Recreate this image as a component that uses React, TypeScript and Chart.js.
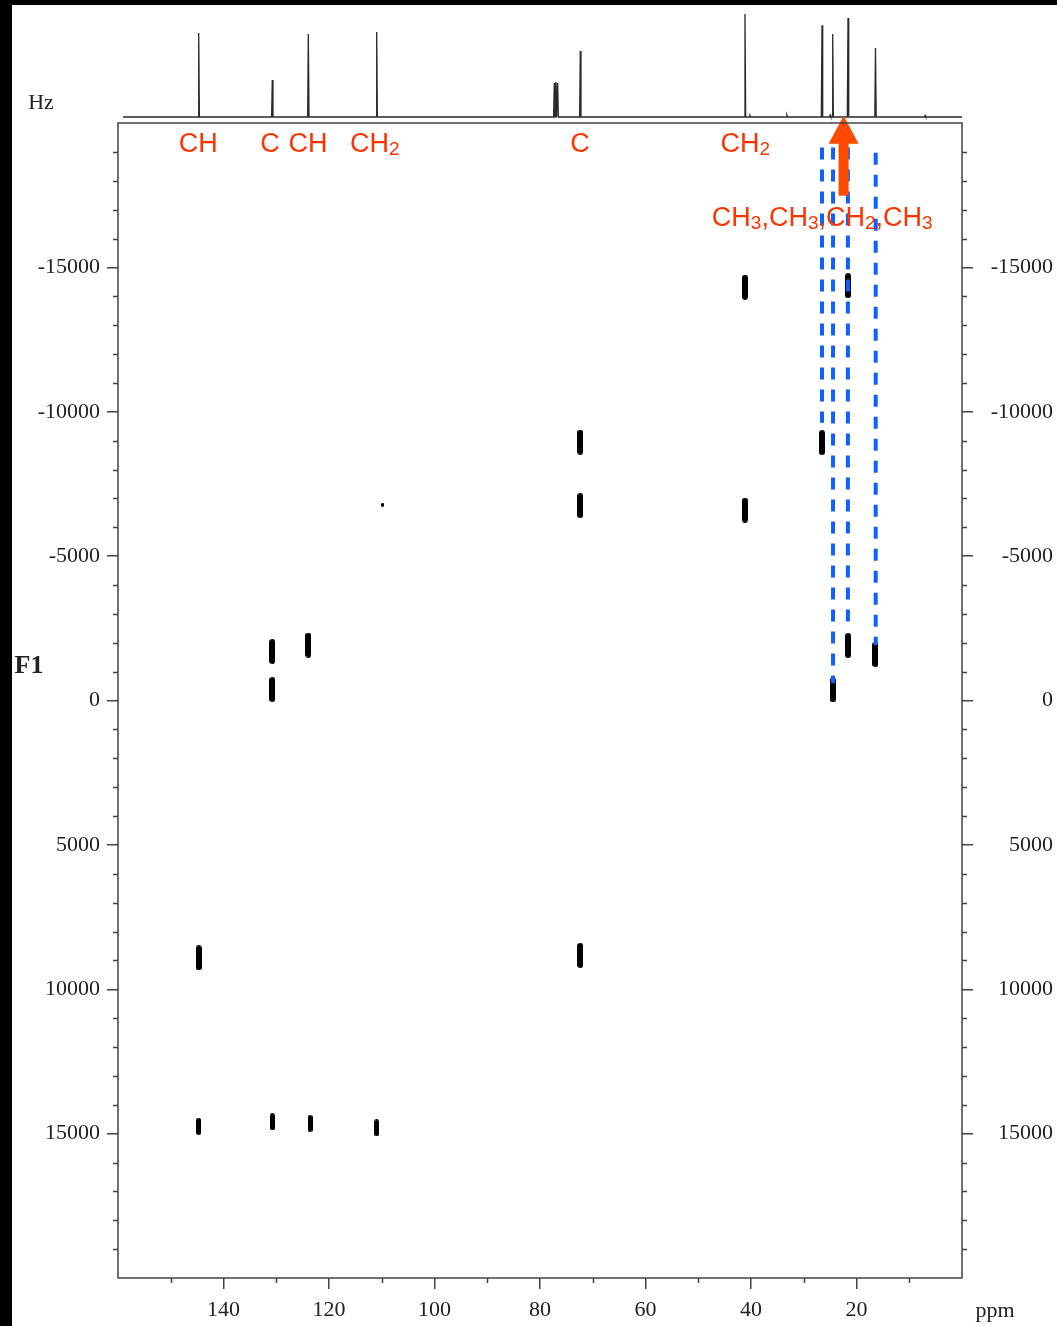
import React, { useEffect, useRef } from 'react';
import { Chart, registerables } from 'chart.js';

Chart.register(...registerables);

// ---- 1D 13C projection along F2 (ppm) ----
const specPeakPpm = [144.7, 130.75, 123.92, 110.96, 77.29, 76.97, 76.65, 72.36, 41.14, 40.2, 33.2, 26.54, 25.0, 24.51, 21.61, 16.4, 7.0];
const specPeakHeight = [81.5, 36, 80.5, 82.5, 33, 34, 33, 64, 100, 1.5, 2, 89, 2, 80.5, 96, 67, 1.5];
const specStartPpm = 159.05;
const specEndPpm = 0;

// ---- 2D cross peaks: F2 (ppm) vs F1 (Hz) ----
const strongPpm = [41.14, 21.61, 72.36, 26.54, 72.36, 41.14, 130.75, 123.92, 130.75, 21.61, 16.4, 24.51, 144.7, 72.36];
const strongHz = [-14315, -14367, -8949, -8932, -6751, -6595, -1696, -1921, -381, -1904, -1593, -364, 8915, 8828];
const weakPpm = [144.7, 130.75, 123.6, 110.96];
const weakHz = [14748, 14592, 14644, 14800];
const tracePpm = [109.8];
const traceHz = [-6786];

// ---- Axis ticks ----
const xMajorTicks = [140, 120, 100, 80, 60, 40, 20];
const xMinorTicks = [150, 130, 110, 90, 70, 50, 30, 10];
const yMajorTicks = [-15000, -10000, -5000, 0, 5000, 10000, 15000];
const yMinorTicks = [-19000, -18000, -17000, -16000, -14000, -13000, -12000, -11000, -9000, -8000, -7000, -6000, -4000, -3000, -2000, -1000, 1000, 2000, 3000, 4000, 6000, 7000, 8000, 9000, 11000, 12000, 13000, 14000, 16000, 17000, 18000, 19000];

// ---- Annotations ----
const guidePpm = [26.54, 24.45, 21.63, 16.36];
const guideFromHz = [-19150, -19150, -19150, -18970];
const guideToHz = [-9620, -600, -2480, -1920];

const arrowPpm = 22.45;
const arrowTailHz = -17483;
const arrowTipHz = -20250;

const labelText = ['CH', 'C', 'CH', 'CH_2', 'C', 'CH_2', 'CH_3,CH_3,CH_2,CH_3'];
const labelPpm = [144.8, 131.2, 124.0, 111.3, 72.4, 41.1, 26.5];
const labelHz = [-19006, -19006, -19006, -19006, -19006, -19006, -16427];

const SERIF = '"Liberation Serif", "Times New Roman", serif';
const SANS = '"Liberation Sans", Arial, Helvetica, sans-serif';
const AXIS = '#444';
const RED = '#ff3300';
const ORANGE = '#ff4a00';
const BLUE = '#1060ff';

function capsule(w: number, h: number): HTMLCanvasElement {
  const c = document.createElement('canvas');
  c.width = w;
  c.height = h;
  const g = c.getContext('2d')!;
  g.fillStyle = '#000';
  g.beginPath();
  const r = w / 2;
  g.moveTo(0, r);
  g.arc(r, r, r, Math.PI, 0);
  g.lineTo(w, h - r);
  g.arc(r, h - r, r, 0, Math.PI);
  g.closePath();
  g.fill();
  return c;
}

function drawChem(ctx: CanvasRenderingContext2D, text: string, cx: number, base: number, size: number, subSize: number, drop: number) {
  const parts = text.split(/(_\d)/).filter((p) => p.length > 0);
  const mainFont = `${size}px ${SANS}`;
  const subFont = `${subSize}px ${SANS}`;
  let total = 0;
  const widths: number[] = [];
  for (const p of parts) {
    ctx.font = p.startsWith('_') ? subFont : mainFont;
    const w = ctx.measureText(p.startsWith('_') ? p.slice(1) : p).width;
    widths.push(w);
    total += w;
  }
  let x = cx - total / 2;
  ctx.textAlign = 'left';
  ctx.textBaseline = 'alphabetic';
  parts.forEach((p, i) => {
    if (p.startsWith('_')) {
      ctx.font = subFont;
      ctx.fillText(p.slice(1), x, base + drop);
    } else {
      ctx.font = mainFont;
      ctx.fillText(p, x, base);
    }
    x += widths[i];
  });
}

export default function App() {
  const specRef = useRef<HTMLCanvasElement>(null);
  const mapRef = useRef<HTMLCanvasElement>(null);

  useEffect(() => {
    // spectrum points (stick-like peaks on a flat baseline)
    const order = specPeakPpm.map((p, i) => i).sort((a, b) => specPeakPpm[b] - specPeakPpm[a]);
    const specData: { x: number; y: number }[] = [{ x: specStartPpm, y: 0 }];
    for (const i of order) {
      specData.push({ x: specPeakPpm[i] + 0.13, y: 0 });
      specData.push({ x: specPeakPpm[i], y: specPeakHeight[i] });
      specData.push({ x: specPeakPpm[i] - 0.13, y: 0 });
    }
    specData.push({ x: specEndPpm, y: 0 });

    const spec = new Chart(specRef.current!, {
      type: 'line',
      data: {
        datasets: [
          {
            data: specData,
            borderColor: '#2a2a2a',
            borderWidth: 1.3,
            pointRadius: 0,
            tension: 0,
            clip: false as any,
          },
        ],
      },
      options: {
        animation: false,
        responsive: false,
        maintainAspectRatio: false,
        events: [],
        layout: { padding: { left: 118, right: 95, top: 14, bottom: 8 } },
        plugins: { legend: { display: false }, tooltip: { enabled: false } },
        scales: {
          x: { type: 'linear', min: 0, max: 160, reverse: true, display: false },
          y: { type: 'linear', min: 0, max: 100, display: false },
        },
      },
    });

    const strongImg = capsule(6, 25);
    const weakImg = capsule(5, 17);
    const traceImg = capsule(3, 4);

    const decor = {
      id: 'decor',
      afterDatasetsDraw(chart: any) {
        const ctx: CanvasRenderingContext2D = chart.ctx;
        const xs = chart.scales.x;
        const ys = chart.scales.y;
        ctx.save();
        // red multiplicity labels
        ctx.fillStyle = RED;
        labelText.forEach((t, i) => {
          drawChem(ctx, t, xs.getPixelForValue(labelPpm[i]), ys.getPixelForValue(labelHz[i]), 27, 19, 3);
        });
        // orange arrow
        const ax = xs.getPixelForValue(arrowPpm);
        const tail = ys.getPixelForValue(arrowTailHz);
        const tip = ys.getPixelForValue(arrowTipHz);
        const headLen = 28;
        ctx.fillStyle = ORANGE;
        ctx.fillRect(ax - 5, tip + headLen - 1, 10, tail - (tip + headLen - 1));
        ctx.beginPath();
        ctx.moveTo(ax, tip);
        ctx.lineTo(ax + 15, tip + headLen);
        ctx.lineTo(ax - 15, tip + headLen);
        ctx.closePath();
        ctx.fill();
        ctx.restore();
      },
      afterDraw(chart: any) {
        const ctx: CanvasRenderingContext2D = chart.ctx;
        const a = chart.chartArea;
        const xs = chart.scales.x;
        const ys = chart.scales.y;
        ctx.save();
        ctx.strokeStyle = AXIS;
        ctx.lineWidth = 1.5;
        ctx.strokeRect(a.left, a.top, a.right - a.left, a.bottom - a.top);
        ctx.beginPath();
        for (const v of yMinorTicks) {
          const py = Math.round(ys.getPixelForValue(v)) + 0.5;
          ctx.moveTo(a.left - 5, py);
          ctx.lineTo(a.left, py);
          ctx.moveTo(a.right, py);
          ctx.lineTo(a.right + 5, py);
        }
        for (const v of xMinorTicks) {
          const px = Math.round(xs.getPixelForValue(v)) + 0.5;
          ctx.moveTo(px, a.bottom);
          ctx.lineTo(px, a.bottom + 5);
        }
        ctx.stroke();
        // axis captions
        ctx.fillStyle = '#222';
        ctx.textBaseline = 'middle';
        ctx.textAlign = 'center';
        ctx.font = `22px ${SERIF}`;
        ctx.fillText('Hz', a.left - 77, a.top - 20);
        ctx.fillText('ppm', a.right + 33, a.bottom + 33);
        ctx.font = `bold 26px ${SERIF}`;
        ctx.fillText('F1', a.left - 89, ys.getPixelForValue(-1200));
        ctx.restore();
      },
    };

    const yAxisCommon = (pos: 'left' | 'right', width: number) => ({
      type: 'linear' as const,
      position: pos,
      min: -20000,
      max: 20000,
      reverse: true,
      border: { display: false },
      grid: { drawOnChartArea: false, drawTicks: true, tickLength: 11, color: AXIS, lineWidth: 1.5 },
      ticks: {
        stepSize: 5000,
        autoSkip: false,
        padding: 7,
        color: '#222',
        font: { family: SERIF, size: 22 },
        crossAlign: pos === 'right' ? ('far' as const) : ('near' as const),
        callback: (v: any) => String(v),
      },
      afterBuildTicks: (s: any) => {
        s.ticks = yMajorTicks.map((v) => ({ value: v }));
      },
      afterFit: (s: any) => {
        s.width = width;
      },
    });

    const map = new Chart(mapRef.current!, {
      type: 'scatter',
      data: {
        datasets: [
          ...guidePpm.map((p, i) => ({
            data: [
              { x: p, y: guideFromHz[i] },
              { x: p, y: guideToHz[i] },
            ],
            showLine: true,
            borderColor: BLUE,
            borderWidth: 4,
            borderDash: [12, 10],
            borderCapStyle: 'butt' as const,
            pointRadius: 0,
            order: 0,
          })),
          {
            data: strongPpm.map((p, i) => ({ x: p, y: strongHz[i] })),
            pointStyle: strongImg as any,
            pointRadius: 3,
            order: 1,
          },
          {
            data: weakPpm.map((p, i) => ({ x: p, y: weakHz[i] })),
            pointStyle: weakImg as any,
            pointRadius: 3,
            order: 1,
          },
          {
            data: tracePpm.map((p, i) => ({ x: p, y: traceHz[i] })),
            pointStyle: traceImg as any,
            pointRadius: 3,
            order: 1,
          },
        ],
      },
      options: {
        animation: false,
        responsive: false,
        maintainAspectRatio: false,
        events: [],
        layout: { padding: { left: 0, right: 4, top: 123, bottom: 0 } },
        plugins: { legend: { display: false }, tooltip: { enabled: false } },
        scales: {
          x: {
            type: 'linear',
            position: 'bottom',
            min: 0,
            max: 160,
            reverse: true,
            border: { display: false },
            grid: { drawOnChartArea: false, drawTicks: true, tickLength: 11, color: AXIS, lineWidth: 1.5 },
            ticks: {
              stepSize: 20,
              autoSkip: false,
              maxRotation: 0,
              padding: 8,
              color: '#222',
              font: { family: SERIF, size: 22 },
              callback: (v: any) => String(v),
            },
            afterBuildTicks: (s: any) => {
              s.ticks = xMajorTicks.map((v) => ({ value: v }));
            },
            afterFit: (s: any) => {
              s.height = 48;
            },
          },
          y: yAxisCommon('left', 118),
          y2: yAxisCommon('right', 91),
        } as any,
      },
      plugins: [decor],
    });

    return () => {
      spec.destroy();
      map.destroy();
    };
  }, []);

  return (
    <div style={{ position: 'absolute', left: 0, top: 0, width: 1057, height: 1326, background: '#fff', overflow: 'hidden' }}>
      <canvas ref={specRef} width={1057} height={125} style={{ position: 'absolute', left: 0, top: 0, zIndex: 1 }} />
      <canvas ref={mapRef} width={1057} height={1326} style={{ position: 'absolute', left: 0, top: 0, zIndex: 2 }} />
      <div style={{ position: 'absolute', left: 0, top: 0, width: 12, height: 1326, background: '#000', zIndex: 3 }} />
      <div style={{ position: 'absolute', left: 0, top: 0, width: 1057, height: 5, background: '#000', zIndex: 3 }} />
    </div>
  );
}
